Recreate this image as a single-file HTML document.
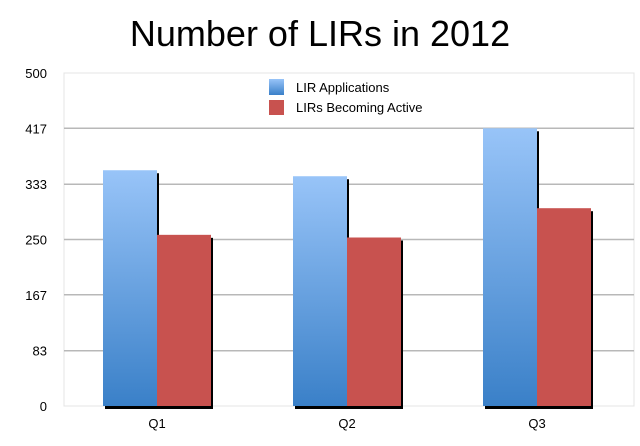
<!DOCTYPE html>
<html><head><meta charset="utf-8">
<style>
html,body{margin:0;padding:0;background:#fff;}
svg{display:block;font-family:"Liberation Sans",sans-serif;}
</style></head>
<body>
<svg width="640" height="446" viewBox="0 0 640 446">
<defs>
<linearGradient id="gb" x1="0" y1="0" x2="0" y2="1">
<stop offset="0" stop-color="#98c4f8"/><stop offset="1" stop-color="#3a80c8"/>
</linearGradient>
</defs>
<text x="320" y="46" text-anchor="middle" font-size="36" fill="#000">Number of LIRs in 2012</text>
<rect x="64" y="73" width="570" height="333" fill="#fff" stroke="#e4e4e4"/>
<g id="grid"></g>
<g id="bars"></g>
<g id="labels"></g>
<g>
<rect x="269" y="79" width="15" height="16" fill="url(#gb)"/>
<text x="296" y="92" font-size="13">LIR Applications</text>
<rect x="269" y="100" width="15" height="15" fill="#c8524f"/>
<text x="296" y="112" font-size="13">LIRs Becoming Active</text>
</g>
</svg>
<script>
const categories=["Q1","Q2","Q3"];
const applications=[354,345,417];
const active=[257,253,297];
const ticks=[0,83,167,250,333,417,500];
const tickLabels=["0","83","167","250","333","417","500"];
const NS="http://www.w3.org/2000/svg";
const X0=64,X1=634,Y0=406,Y1=73,MAX=500;
const y=v=>Y0-(v/MAX)*(Y0-Y1);
const groupW=(X1-X0)/categories.length;
const barW=54;
function mk(t,a,p){const e=document.createElementNS(NS,t);for(const k in a)e.setAttribute(k,a[k]);p.appendChild(e);return e;}
const grid=document.getElementById('grid'),bars=document.getElementById('bars'),labels=document.getElementById('labels');
ticks.forEach((t,i)=>{
  if(t>0&&t<MAX){const l=mk('line',{x1:X0,x2:X1,y1:y(t),y2:y(t),stroke:'#b8b8b8','stroke-width':1.5},grid);
  
  }
  const tx=mk('text',{x:47,y:y(t)+5,'text-anchor':'end','font-size':13},labels);
  tx.textContent=tickLabels[i];
  
  
});
categories.forEach((c,i)=>{
  const cx=X0+groupW*(i+0.5)-2;
  [[applications[i],'url(#gb)',cx-barW,'applications'],[active[i],'#c8524f',cx,'active']].forEach(([v,f,bx,n])=>{
    const top=y(v);
    const s=mk('rect',{x:bx+2,y:top+3,width:barW,height:Y0-top,fill:'#000'},bars);
    
    
    const r=mk('rect',{x:bx,y:top,width:barW,height:Y0-top,fill:f},bars);
    
    
  });
  const t=mk('text',{x:cx,y:428,'text-anchor':'middle','font-size':13},labels);
  t.textContent=c;
  
  
});
</script>
</body></html>
